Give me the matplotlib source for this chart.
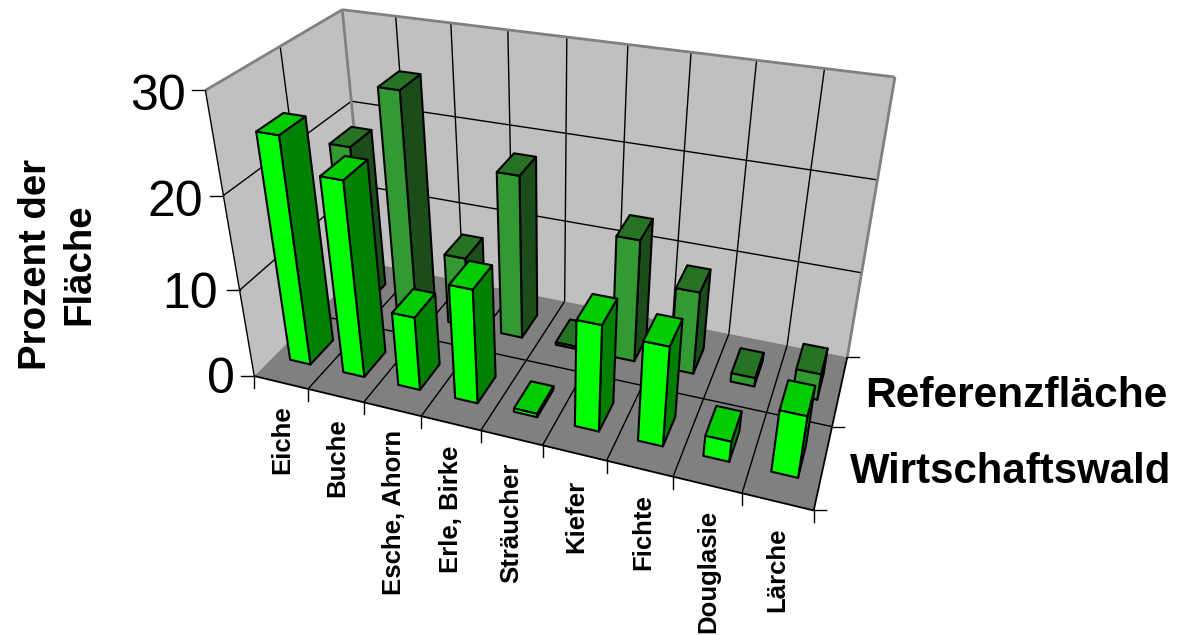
import matplotlib
matplotlib.use("Agg")
import matplotlib.pyplot as plt
from matplotlib.lines import Line2D
import numpy as np
from mpl_toolkits.mplot3d.art3d import Poly3DCollection

plt.rcParams['font.family'] = ['Liberation Sans', 'DejaVu Sans']

categories = ['Eiche', 'Buche', 'Esche, Ahorn', 'Erle, Birke', 'Sträucher',
              'Kiefer', 'Fichte', 'Douglasie', 'Lärche']
series_names = ['Wirtschaftswald', 'Referenzfläche']
wirtschaftswald = [25, 21.6, 8.4, 12.8, 0.4, 11.8, 11, 2.3, 6.8]
referenz = [18.8, 25.7, 8.3, 18.7, 0.3, 14, 9.5, 1, 3]
z_ticks = [0, 10, 20, 30]

W, H = 1178, 635
n_x, n_y, z_max = len(categories), len(series_names), z_ticks[-1]
bar_w = 0.385

# camera: (x, y, z) of box corners -> pixel in the picture
calib = [
    (0, 0, 0, 256, 376), (0, 0, 10, 240, 289), (0, 0, 20, 223, 196), (0, 0, 30, 205, 90),
    (0, 2, 20, 351, 100), (0, 2, 30, 342, 11), (9, 2, 30, 896, 77), (9, 2, 0, 847, 357),
    (9, 0, 0, 813, 510), (9, 1, 0, 832, 427), (1, 0, 0, 307, 389), (2, 0, 0, 363, 403),
    (3, 0, 0, 422, 417), (8, 0, 0, 742, 493),
]


def fit_camera(pts):
    rows = []
    for x, y, z, u, v in pts:
        X = [x, y, z, 1]
        rows.append(X + [0, 0, 0, 0] + [-u / W * c for c in X])
        rows.append([0, 0, 0, 0] + X + [-v / H * c for c in X])
    sol = np.linalg.svd(np.array(rows, dtype=float))[2][-1]
    P = sol.reshape(3, 4)
    if P[2, 3] < 0:
        P = -P
    return P


P = fit_camera(calib)  # gives u/W, v/H

fig = plt.figure(figsize=(W / 100, H / 100), dpi=100)
ax = fig.add_axes([0, 0, 1, 1], projection='3d')
ax.set_axis_off()
ax.computed_zorder = False

x0, x1 = ax.viewLim.intervalx
y0, y1 = ax.viewLim.intervaly
row_u = (x1 - x0) * P[0] + x0 * P[2]
row_v = (y0 - y1) * P[1] + y1 * P[2]
M = np.array([row_u, row_v, [0, 0, 0, -1], P[2]])
ax.get_proj = lambda: M
ax.apply_aspect = lambda position=None: None


def px(u, v):
    return u / W, 1 - v / H


def to_fig(x, y, z):
    q = P @ np.array([x, y, z, 1.0])
    return q[0] / q[2], 1 - q[1] / q[2]


def tick(x, y, z, du, dv):
    a, b = to_fig(x, y, z)
    fig.add_artist(Line2D([a, a + du / W], [b, b - dv / H], color='black', lw=1.0))


# walls and floor
wall = '#c0c0c0'
edge = '#808080'
left_wall = [(0, 0, 0), (0, n_y, 0), (0, n_y, z_max), (0, 0, z_max)]
back_wall = [(0, n_y, 0), (n_x, n_y, 0), (n_x, n_y, z_max), (0, n_y, z_max)]
floor = [(0, 0, 0), (n_x, 0, 0), (n_x, n_y, 0), (0, n_y, 0)]
ax.add_collection3d(Poly3DCollection([left_wall, back_wall], facecolor=wall, edgecolor='none', zorder=1))
ax.add_collection3d(Poly3DCollection([floor], facecolor='#808080', edgecolor='none', zorder=1))


def line(a, b, color='black', lw=1.0, zo=2):
    ax.plot([a[0], b[0]], [a[1], b[1]], [a[2], b[2]], color=color, lw=lw, zorder=zo,
            solid_capstyle='butt')


# gridlines
for z in z_ticks[1:-1]:
    line((0, 0, z), (0, n_y, z))
    line((0, n_y, z), (n_x, n_y, z))
for i in range(1, n_x):
    line((i, n_y, 0), (i, n_y, z_max))
    line((i, 0, 0), (i, n_y, 0))
line((0, 1, 0), (0, 1, z_max))
line((0, 1, 0), (n_x, 1, 0))

# wall outline
line((0, 0, z_max), (0, n_y, z_max), edge, 2)
line((0, n_y, z_max), (n_x, n_y, z_max), edge, 2)
line((0, n_y, 0), (0, n_y, z_max), edge, 2)
line((n_x, n_y, 0), (n_x, n_y, z_max), edge, 2)

# axes and tick marks
line((0, 0, 0), (0, 0, z_max))
line((0, 0, 0), (n_x, 0, 0), lw=1.3)
line((n_x, 0, 0), (n_x, n_y, 0), lw=1.3)
for z in z_ticks:
    tick(0, 0, z, -13, 0)
for i in range(n_x + 1):
    tick(i, 0, 0, 0, 12)
for j in range(n_y + 1):
    tick(n_x, j, 0, 12, 0)

# bars, hidden faces transparent: -z, +z, -y, +y, -x, +x
hide = (0, 0, 0, 0)
styles = [((0, 1, 0), (0, 0.8, 0), (0, 0.5, 0)),
          ((0.2, 0.6, 0.2), (0.15, 0.45, 0.15), (0.1, 0.3, 0.1))]
zo = 10
for j, vals in reversed(list(enumerate([wirtschaftswald, referenz]))):
    front, top, side = styles[j]
    for i, val in enumerate(vals):
        faces = [hide, top, front, hide, hide, side]
        edges = [hide, 'k', 'k', hide, hide, 'k']
        c = ax.bar3d(i + 0.5 - bar_w / 2, j + 0.5 - bar_w / 2, 0, bar_w, bar_w, val,
                     color=faces, edgecolor=edges, linewidth=1.5, shade=False)
        c.set_zorder(zo)
        zo += 1

# text
for z, u, v in zip(z_ticks, [235, 218, 203, 186], [380, 295, 203, 97]):
    fig.text(*px(u, v), str(z), fontsize=36, ha='right', va='center')
fig.text(*px(58, 264), 'Prozent der\nFläche', fontsize=27.6, fontweight='bold', rotation=90,
         ha='center', va='center', linespacing=1.25, multialignment='center')
label_u = [282, 337, 394, 451, 511, 576, 643, 708, 777]
label_v = [405, 418, 430, 446, 463, 480, 494, 510, 527]
for name, u, v in zip(categories, label_u, label_v):
    fig.text(*px(u, v), name, fontsize=18.5, fontweight='bold', rotation=90, ha='center', va='top')
fig.text(*px(1168, 396), series_names[1], fontsize=30.6, fontweight='bold', ha='right', va='center')
fig.text(*px(1171, 472), series_names[0], fontsize=30.2, fontweight='bold', ha='right', va='center')

fig.savefig('out.png', dpi=100)
